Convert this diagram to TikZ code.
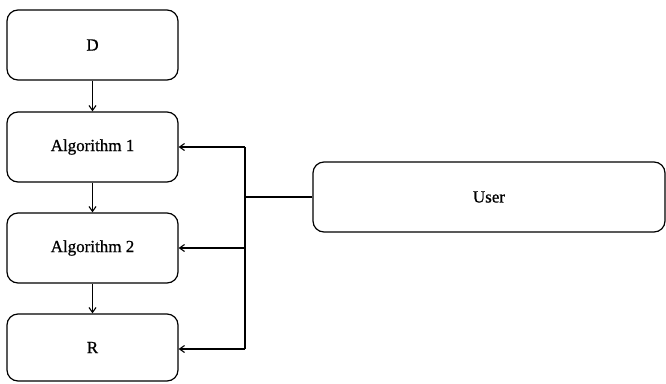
\documentclass[tikz,border=0pt]{standalone}
\usepackage{fontspec}
\setmainfont{Liberation Serif}
\usetikzlibrary{arrows.meta,positioning}
\begin{document}
\begin{tikzpicture}[x=1pt,y=-1pt,
  blk/.style={draw, line width=1.2pt, rounded corners=11pt, minimum width=171pt,
    minimum height=70pt, font=\fontsize{17}{19}\selectfont\addfontfeature{FakeBold=0.8}, inner sep=0pt},
  link/.style={line width=1.1pt, -{Straight Barb[length=5pt,width=7pt]}},
  wire/.style={line width=1.1pt}]
  \useasboundingbox (0,0) rectangle (666,383);
  \node[blk] (d) at (92.5,45) {D};
  \node[blk] (a1) at (92.5,147) {Algorithm 1};
  \node[blk] (a2) at (92.5,248) {Algorithm 2};
  \node[blk, minimum height=67pt] (r) at (92.5,347.5) {R};
  \node[blk, minimum width=352pt, minimum height=70pt] (u) at (489,197) {User};
  % vertical chain
  \draw[link] (d) -- (a1);
  \draw[link] (a1) -- (a2);
  \draw[link] (a2) -- (r);
  % user feedback bus
  \coordinate (j) at (245,197);
  \coordinate (jt) at (245,147);
  \coordinate (jb) at (245,349);
  \draw[wire] (u.west) -- (j);
  \draw[wire] (jt) -- (jb);
  \draw[link] (jt) -- (a1.east);
  \draw[link] (245,248) -- (a2.east);
  \draw[link] (jb) -- (r.east |- jb);
\end{tikzpicture}
\end{document}
